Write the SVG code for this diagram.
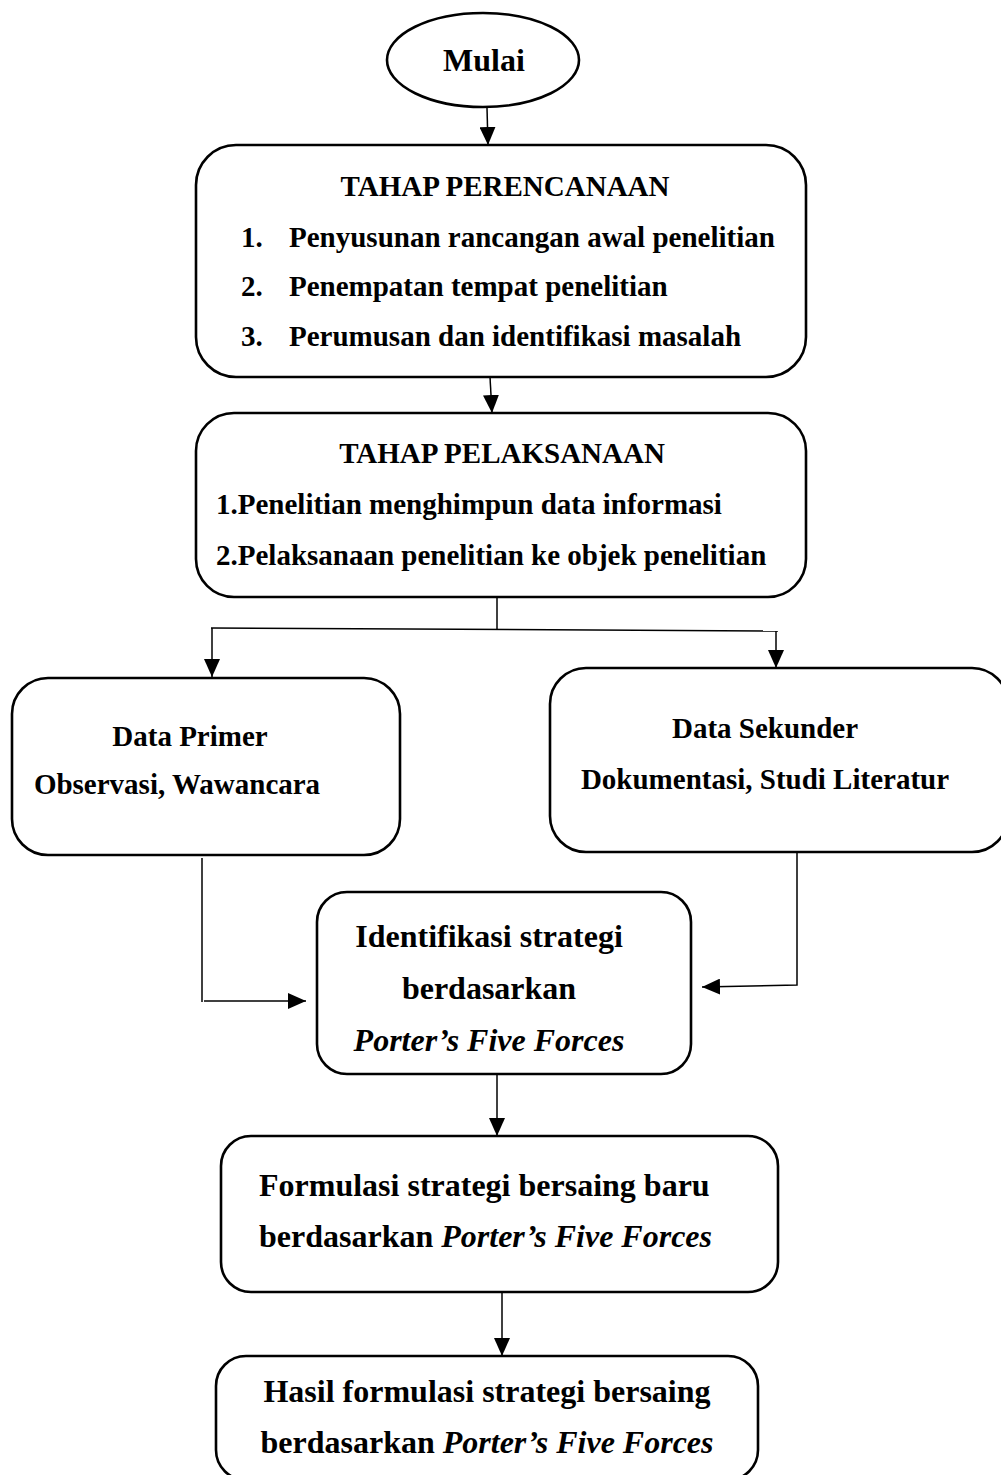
<svg xmlns="http://www.w3.org/2000/svg" width="1001" height="1475" viewBox="0 0 1001 1475">
<defs>
<marker id="ah" markerWidth="18" markerHeight="16" refX="18" refY="8" viewBox="0 0 18 16" orient="auto" markerUnits="userSpaceOnUse">
<path d="M0,0 L18,8 L0,16 Z" fill="#000"/>
</marker>
<style>
.box{fill:#fff;stroke:#000;stroke-width:2.6}
.con{fill:none;stroke:#000;stroke-width:1.5}
.t{font-family:"Liberation Serif","Times New Roman",serif;font-weight:bold;font-size:29px;fill:#000}
.t32{font-family:"Liberation Serif","Times New Roman",serif;font-weight:bold;font-size:32px;fill:#000}
.c{text-anchor:middle}
.i{font-style:italic}
</style>
</defs>
<rect width="1001" height="1475" fill="#fff"/>
<g id="connectors">
<line class="con" x1="487" y1="108" x2="488" y2="145" marker-end="url(#ah)"/>
<line class="con" x1="490" y1="377" x2="492" y2="413" marker-end="url(#ah)"/>
<line class="con" x1="497" y1="597" x2="497" y2="630"/>
<line class="con" x1="211" y1="628" x2="778" y2="631"/>
<line class="con" x1="212" y1="628" x2="212" y2="677" marker-end="url(#ah)"/>
<line class="con" x1="776" y1="631" x2="776" y2="668" marker-end="url(#ah)"/>
<polyline class="con" points="202,858 202,1002"/>
<line class="con" x1="204" y1="1001" x2="306" y2="1001" marker-end="url(#ah)"/>
<polyline class="con" points="797,852 797,985 702,987" marker-end="url(#ah)"/>
<line class="con" x1="497" y1="1074" x2="497" y2="1136" marker-end="url(#ah)"/>
<line class="con" x1="502" y1="1292" x2="502" y2="1356" marker-end="url(#ah)"/>
</g>
<g id="mulai">
<ellipse class="box" cx="483" cy="60" rx="96" ry="47"/>
<text class="t32 c" x="484" y="71">Mulai</text>
</g>
<g id="perencanaan">
<rect class="box" x="196" y="145" width="610" height="232" rx="40"/>
<text class="t c" x="505" y="196">TAHAP PERENCANAAN</text>
<text class="t" x="241" y="247">1.</text>
<text class="t" x="289" y="247">Penyusunan rancangan awal penelitian</text>
<text class="t" x="241" y="296">2.</text>
<text class="t" x="289" y="296">Penempatan tempat penelitian</text>
<text class="t" x="241" y="346">3.</text>
<text class="t" x="289" y="346">Perumusan dan identifikasi masalah</text>
</g>
<g id="pelaksanaan">
<rect class="box" x="196" y="413" width="610" height="184" rx="38"/>
<text class="t c" x="502" y="463">TAHAP PELAKSANAAN</text>
<text class="t" x="216" y="514">1.Penelitian menghimpun data informasi</text>
<text class="t" x="216" y="565">2.Pelaksanaan penelitian ke objek penelitian</text>
</g>
<g id="primer">
<rect class="box" x="12" y="678" width="388" height="177" rx="36"/>
<text class="t c" x="190" y="746">Data Primer</text>
<text class="t c" x="177" y="794">Observasi, Wawancara</text>
</g>
<g id="sekunder">
<rect class="box" x="550" y="668" width="458" height="184" rx="36"/>
<text class="t c" x="765" y="738">Data Sekunder</text>
<text class="t c" x="765" y="789">Dokumentasi, Studi Literatur</text>
</g>
<g id="identifikasi">
<rect class="box" x="317" y="892" width="374" height="182" rx="30"/>
<text class="t32 c" x="489" y="947">Identifikasi strategi</text>
<text class="t32 c" x="489" y="999">berdasarkan</text>
<text class="t32 c i" x="489" y="1051">Porter’s Five Forces</text>
</g>
<g id="formulasi">
<rect class="box" x="221" y="1136" width="557" height="156" rx="30"/>
<text class="t32" x="259" y="1196">Formulasi strategi bersaing baru</text>
<text class="t32" x="259" y="1247">berdasarkan <tspan class="i">Porter’s Five Forces</tspan></text>
</g>
<g id="hasil">
<rect class="box" x="216" y="1356" width="542" height="124" rx="30"/>
<text class="t32 c" x="487" y="1402">Hasil formulasi strategi bersaing</text>
<text class="t32 c" x="487" y="1453">berdasarkan <tspan class="i">Porter’s Five Forces</tspan></text>
</g>
</svg>
